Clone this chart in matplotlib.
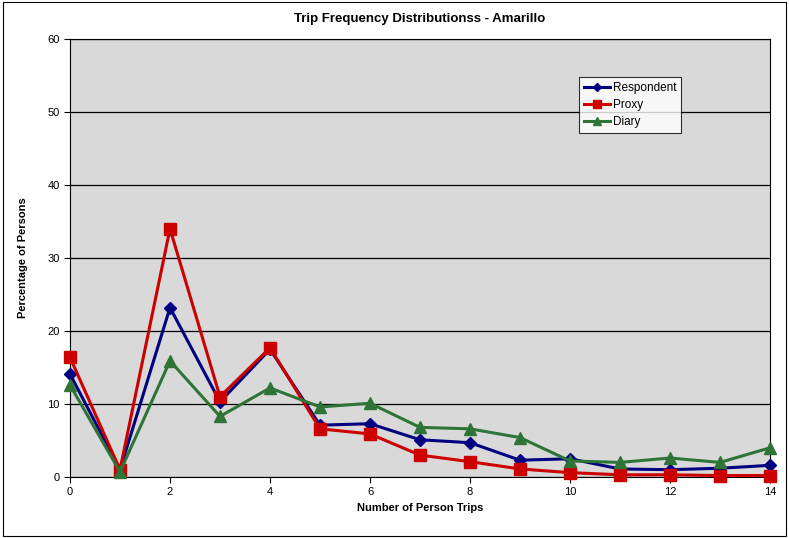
import numpy as np
import matplotlib.pyplot as plt
from matplotlib.patches import Rectangle

trips = list(range(15))
respondent = [14.1, 1.0, 23.2, 10.3, 17.5, 7.1, 7.3, 5.1, 4.7, 2.3, 2.5, 1.1, 1.0, 1.2, 1.6]
proxy = [16.4, 1.0, 34.0, 11.0, 17.7, 6.6, 5.9, 3.0, 2.1, 1.1, 0.6, 0.3, 0.3, 0.2, 0.2]
diary = [12.6, 0.7, 15.9, 8.3, 12.2, 9.6, 10.1, 6.8, 6.6, 5.4, 2.2, 2.0, 2.6, 2.0, 4.0]


def main():
    plt.rcParams['font.family'] = ['Liberation Sans', 'DejaVu Sans']
    fig = plt.figure(figsize=(7.89, 5.38), dpi=100)
    ax = fig.add_axes([70 / 789, 61 / 538, 700 / 789, 438 / 538])
    ax.set_facecolor('#d9d9d9')

    ax.plot(trips, respondent, color='#000080', marker='D', markersize=6, linewidth=2.2,
            label='Respondent', clip_on=False, zorder=3)
    ax.plot(trips, proxy, color='#cc0000', marker='s', markersize=8, linewidth=2.2,
            label='Proxy', clip_on=False, zorder=3)
    ax.plot(trips, diary, color='#2e7437', marker='^', markersize=8, linewidth=2.2,
            label='Diary', clip_on=False, zorder=3)

    ax.set_xlim(0, 14)
    ax.set_ylim(0, 60)
    ax.set_xticks(range(0, 15, 2))
    ax.set_yticks(range(0, 61, 10))
    ax.yaxis.grid(True, color='black', linewidth=0.9)
    ax.set_axisbelow(True)
    ax.tick_params(labelsize=8, length=4, width=0.8, direction='out')
    for s in ax.spines.values():
        s.set_linewidth(0.8)

    ax.set_title('Trip Frequency Distributionss - Amarillo', fontsize=9.5, fontweight='bold', pad=12)
    ax.set_xlabel('Number of Person Trips', fontsize=8, fontweight='bold', labelpad=4)
    ax.set_ylabel('Percentage of Persons', fontsize=8, fontweight='bold', labelpad=14)

    leg = ax.legend(loc='upper left', bbox_to_anchor=(503 / 700, (477 - 71) / 438), fontsize=8.5,
                    frameon=True, fancybox=False, edgecolor='black', facecolor='white',
                    handlelength=2.2, handletextpad=0.2, borderpad=0.45, labelspacing=0.4,
                    markerscale=0.7)
    leg.get_frame().set_linewidth(0.8)

    fig.patches.append(Rectangle((0.004, 0.004), 0.992, 0.992, transform=fig.transFigure,
                                 fill=False, edgecolor='black', linewidth=0.8))

    fig.savefig('out.png', dpi=100)


if __name__ == '__main__':
    main()
